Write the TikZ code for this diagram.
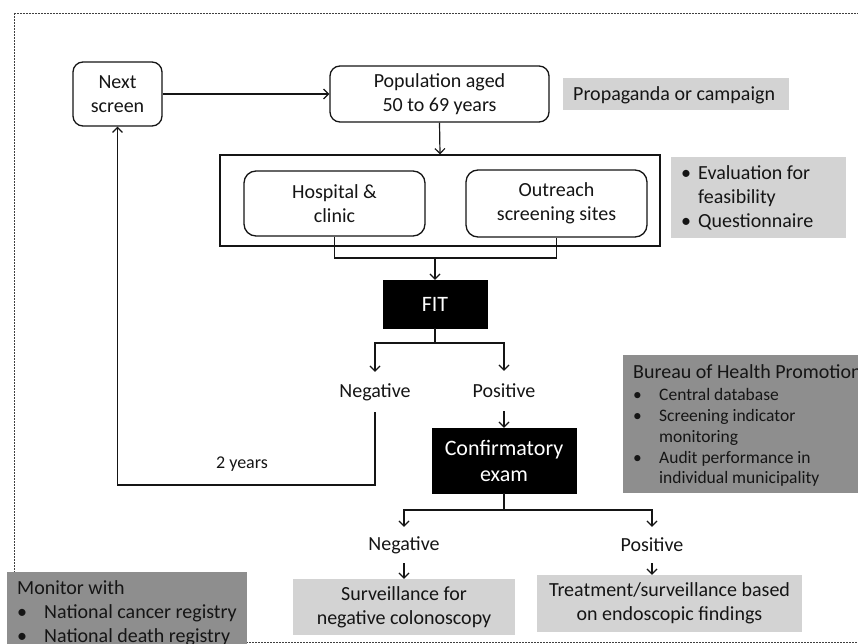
\documentclass[tikz,border=0pt]{standalone}
\usepackage{fontspec}
\setmainfont{Carlito}
\usetikzlibrary{arrows.meta}
\definecolor{lightbox}{HTML}{D3D3D3}
\definecolor{darkbox}{HTML}{8E8E8E}
\definecolor{ink}{HTML}{151515}
\newcommand\fsmain{\fontsize{20}{24}\selectfont}
\newcommand\fsbig{\fontsize{22}{26}\selectfont}
\newcommand\fssmall{\fontsize{17.5}{21}\selectfont}
\begin{document}
\begin{tikzpicture}[x=1pt,y=-1pt,
  frame/.style={draw=black!75, line width=0.9pt, dash pattern=on 2pt off 1pt},
  rbox/.style={draw=ink, line width=1.3pt, rounded corners=10pt, fill=white, align=center, inner sep=0pt, font=\fsmain, text=ink},
  sqbox/.style={draw=ink, line width=1.3pt, inner sep=0pt},
  blackbox/.style={fill=black, draw=black, text=white, align=center, inner sep=0pt, font=\fsbig},
  gbox/.style={fill=lightbox, inner sep=0pt, text=ink, font=\fsmain, align=center},
  dbox/.style={fill=darkbox, inner sep=0pt},
  lab/.style={inner sep=0pt, minimum height=40pt, font=\fsmain, text=ink},
  conn/.style={draw=ink, line width=1.2pt},
  arr/.style={conn, -{Straight Barb[length=5pt,width=10pt]}},
  txt/.style={anchor=base west, inner sep=0pt, text=ink, font=\fsmain},
  stxt/.style={anchor=base west, inner sep=0pt, text=ink, font=\fssmall}
]
\useasboundingbox (0,0) rectangle (858,644);
\clip (0,0) rectangle (858,644);
\draw[frame] (14,13) rectangle (880,642);

% top row
\node[rbox, minimum width=89pt, minimum height=64pt] (next) at (117.5,94) {Next\\screen};
\node[rbox, minimum width=219pt, minimum height=56pt] (pop) at (439.5,94) {Population aged\\50 to 69 years};
\node[gbox, minimum width=226pt, minimum height=32pt] (prop) at (676,94) {};
\node[txt] (propt) at (573,100.5) {Propaganda or campaign};

% sites
\node[sqbox, minimum width=440pt, minimum height=91pt] (cont) at (440,200.5) {};
\node[rbox, rounded corners=12pt, minimum width=181pt, minimum height=65pt] (hosp) at (334.5,203.5) {Hospital \&\\clinic};
\node[rbox, rounded corners=12pt, minimum width=181pt, minimum height=67pt] (out) at (556.5,203.5) {Outreach\\screening sites};
\node[gbox, minimum width=175pt, minimum height=81pt] (eval) at (758.5,197.5) {};
\node[txt] (ev1b) at (681,180) {•};
\node[txt] (ev1) at (698,180) {Evaluation for};
\node[txt] (ev2) at (698,203.5) {feasibility};
\node[txt] (ev3b) at (681,227.5) {•};
\node[txt] (ev3) at (698,227.5) {Questionnaire};

\coordinate (join) at (435,258);
\node[blackbox, minimum width=104pt, minimum height=48pt] (fit) at (435,304) {FIT};
\coordinate (b1) at (435,343);
\node[lab] (neg1) at (375,392) {Negative};
\node[lab] (pos1) at (504,391) {Positive};
\node[blackbox, minimum width=144pt, minimum height=65pt] (conf) at (504,460.5) {Confirmatory\\exam};
\coordinate (b2) at (504,510);
\node[lab, minimum height=36pt] (neg2) at (404,545) {Negative};
\node[lab, minimum height=36pt] (pos2) at (652,545) {Positive};
\node[gbox, minimum width=222pt, minimum height=56pt] (surv) at (404,607) {Surveillance for\\negative colonoscopy};
\node[gbox, minimum width=265pt, minimum height=57pt] (treat) at (669.5,603.5) {Treatment/surveillance based\\on endoscopic findings};

\coordinate (loopy) at (0,485);
\node[anchor=base, inner sep=0pt, font=\fontsize{18}{22}\selectfont, text=ink] (yrs) at (242,468) {2 years};

% Bureau
\node[dbox, minimum width=239pt, minimum height=138pt] (bureau) at (742.5,424) {};
\node[txt] (bt) at (633,378) {Bureau of Health Promotion};
\node[stxt] (bb1) at (633,400) {•};
\node[stxt] (bl1) at (659,400) {Central database};
\node[stxt] (bb2) at (633,421) {•};
\node[stxt] (bl2) at (659,421) {Screening indicator};
\node[stxt] (bl3) at (659,442) {monitoring};
\node[stxt] (bb4) at (633,463) {•};
\node[stxt] (bl4) at (659,463) {Audit performance in};
\node[stxt] (bl5) at (659,483) {individual municipality};

% Monitor
\node[dbox, minimum width=240pt, minimum height=74pt] (mon) at (127,609) {};
\node[txt] (mt) at (17,594) {Monitor with};
\node[txt] (mb1) at (17,618) {•};
\node[txt] (ml1) at (44,618) {National cancer registry};
\node[txt] (mb2) at (17,642) {•};
\node[txt] (ml2) at (44,642) {National death registry};

% connectors
\draw[arr] (next.east) -- (pop.west);
\draw[arr] (pop.south) -- (cont.north);
\draw[conn] (hosp.south) |- (join) -| (out.south);
\draw[arr] (join) -- (fit.north);
\draw[conn] (fit.south) -- (b1);
\draw[arr] (b1) -| (neg1.north);
\draw[arr] (b1) -| (pos1.north);
\draw[arr] (pos1.south) -- (conf.north);
\draw[arr] (neg1.south) -- (neg1.south |- loopy) -| (next.south);
\draw[conn] (conf.south) -- (b2);
\draw[arr] (b2) -| (neg2.north);
\draw[arr] (b2) -| (pos2.north);
\draw[arr] (neg2.south) -- (surv.north);
\draw[arr] (pos2.south) -- (pos2.south |- treat.north);
\end{tikzpicture}
\end{document}
